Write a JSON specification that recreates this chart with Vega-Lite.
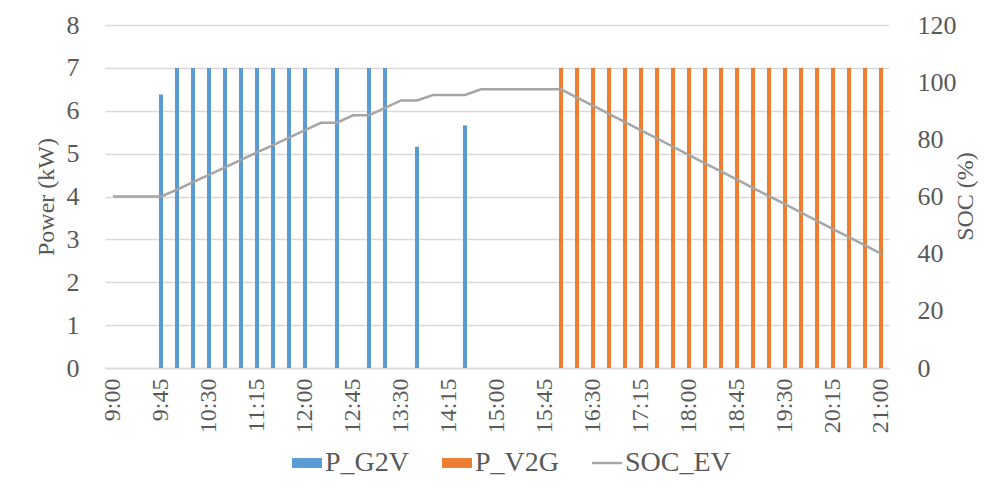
{
  "$schema": "https://vega.github.io/schema/vega-lite/v6.json",
  "width": 784,
  "height": 343,
  "autosize": {"type": "none"},
  "padding": {"left": 105, "top": 25, "right": 117, "bottom": 121},
  "background": "white",
  "config": {
    "view": {"stroke": null},
    "font": "Liberation Serif",
    "axis": {"labelFont": "Liberation Serif", "titleFont": "Liberation Serif", "labelColor": "#595959", "titleColor": "#595959", "titleFontWeight": "normal", "labelFontSize": 24, "titleFontSize": 24},
    "legend": {"labelFont": "Liberation Serif", "labelColor": "#595959", "labelFontSize": 28}
  },
  "datasets": {
    "bars": [
      {"time": "9:45", "series": "P_G2V", "power": 6.38},
      {"time": "10:00", "series": "P_G2V", "power": 7},
      {"time": "10:15", "series": "P_G2V", "power": 7},
      {"time": "10:30", "series": "P_G2V", "power": 7},
      {"time": "10:45", "series": "P_G2V", "power": 7},
      {"time": "11:00", "series": "P_G2V", "power": 7},
      {"time": "11:15", "series": "P_G2V", "power": 7},
      {"time": "11:30", "series": "P_G2V", "power": 7},
      {"time": "11:45", "series": "P_G2V", "power": 7},
      {"time": "12:00", "series": "P_G2V", "power": 7},
      {"time": "12:30", "series": "P_G2V", "power": 7},
      {"time": "13:00", "series": "P_G2V", "power": 7},
      {"time": "13:15", "series": "P_G2V", "power": 7},
      {"time": "13:45", "series": "P_G2V", "power": 5.16},
      {"time": "14:30", "series": "P_G2V", "power": 5.66},
      {"time": "16:00", "series": "P_V2G", "power": 7},
      {"time": "16:15", "series": "P_V2G", "power": 7},
      {"time": "16:30", "series": "P_V2G", "power": 7},
      {"time": "16:45", "series": "P_V2G", "power": 7},
      {"time": "17:00", "series": "P_V2G", "power": 7},
      {"time": "17:15", "series": "P_V2G", "power": 7},
      {"time": "17:30", "series": "P_V2G", "power": 7},
      {"time": "17:45", "series": "P_V2G", "power": 7},
      {"time": "18:00", "series": "P_V2G", "power": 7},
      {"time": "18:15", "series": "P_V2G", "power": 7},
      {"time": "18:30", "series": "P_V2G", "power": 7},
      {"time": "18:45", "series": "P_V2G", "power": 7},
      {"time": "19:00", "series": "P_V2G", "power": 7},
      {"time": "19:15", "series": "P_V2G", "power": 7},
      {"time": "19:30", "series": "P_V2G", "power": 7},
      {"time": "19:45", "series": "P_V2G", "power": 7},
      {"time": "20:00", "series": "P_V2G", "power": 7},
      {"time": "20:15", "series": "P_V2G", "power": 7},
      {"time": "20:30", "series": "P_V2G", "power": 7},
      {"time": "20:45", "series": "P_V2G", "power": 7},
      {"time": "21:00", "series": "P_V2G", "power": 7}
    ],
    "soc": [
      {"time": "9:00", "soc": 60}, {"time": "9:15", "soc": 60}, {"time": "9:30", "soc": 60}, {"time": "9:45", "soc": 60},
      {"time": "10:00", "soc": 62.4}, {"time": "10:15", "soc": 65.0}, {"time": "10:30", "soc": 67.6}, {"time": "10:45", "soc": 70.2},
      {"time": "11:00", "soc": 72.8}, {"time": "11:15", "soc": 75.4}, {"time": "11:30", "soc": 78.0}, {"time": "11:45", "soc": 80.6},
      {"time": "12:00", "soc": 83.2}, {"time": "12:15", "soc": 85.8}, {"time": "12:30", "soc": 85.8}, {"time": "12:45", "soc": 88.4},
      {"time": "13:00", "soc": 88.4}, {"time": "13:15", "soc": 91.0}, {"time": "13:30", "soc": 93.6}, {"time": "13:45", "soc": 93.6},
      {"time": "14:00", "soc": 95.5}, {"time": "14:15", "soc": 95.5}, {"time": "14:30", "soc": 95.5}, {"time": "14:45", "soc": 97.5},
      {"time": "15:00", "soc": 97.5}, {"time": "15:15", "soc": 97.5}, {"time": "15:30", "soc": 97.5}, {"time": "15:45", "soc": 97.5},
      {"time": "16:00", "soc": 97.5}, {"time": "16:15", "soc": 94.6}, {"time": "16:30", "soc": 91.8}, {"time": "16:45", "soc": 88.9},
      {"time": "17:00", "soc": 86.0}, {"time": "17:15", "soc": 83.1}, {"time": "17:30", "soc": 80.3}, {"time": "17:45", "soc": 77.4},
      {"time": "18:00", "soc": 74.5}, {"time": "18:15", "soc": 71.6}, {"time": "18:30", "soc": 68.8}, {"time": "18:45", "soc": 65.9},
      {"time": "19:00", "soc": 63.0}, {"time": "19:15", "soc": 60.1}, {"time": "19:30", "soc": 57.3}, {"time": "19:45", "soc": 54.4},
      {"time": "20:00", "soc": 51.5}, {"time": "20:15", "soc": 48.6}, {"time": "20:30", "soc": 45.8}, {"time": "20:45", "soc": 42.9},
      {"time": "21:00", "soc": 40.0}
    ]
  },
  "layer": [
    {
      "data": {"name": "bars"},
      "mark": {"type": "bar", "width": 4},
      "encoding": {
        "x": {
          "field": "time", "type": "nominal", "sort": null,
          "scale": {"domain": ["9:00","9:15","9:30","9:45","10:00","10:15","10:30","10:45","11:00","11:15","11:30","11:45","12:00","12:15","12:30","12:45","13:00","13:15","13:30","13:45","14:00","14:15","14:30","14:45","15:00","15:15","15:30","15:45","16:00","16:15","16:30","16:45","17:00","17:15","17:30","17:45","18:00","18:15","18:30","18:45","19:00","19:15","19:30","19:45","20:00","20:15","20:30","20:45","21:00"], "paddingInner": 0, "paddingOuter": 0},
          "axis": {
            "title": null,
            "values": ["9:00","9:45","10:30","11:15","12:00","12:45","13:30","14:15","15:00","15:45","16:30","17:15","18:00","18:45","19:30","20:15","21:00"],
            "labelAngle": 270, "labelAlign": "right", "labelBaseline": "middle",
            "labelPadding": 10, "ticks": false, "tickSize": 0,
            "domainColor": "#D9D9D9", "domainWidth": 1.5, "grid": false
          }
        },
        "y": {
          "field": "power", "type": "quantitative",
          "scale": {"domain": [0, 8], "nice": false},
          "axis": {
            "title": "Power (kW)", "values": [0,1,2,3,4,5,6,7,8],
            "labelFontSize": 26,
            "grid": true, "gridColor": "#D9D9D9", "gridWidth": 1.5,
            "domain": false, "ticks": false, "tickSize": 0, "labelPadding": 26,
            "titlePadding": 8
          }
        },
        "color": {
          "field": "series", "type": "nominal",
          "scale": {"domain": ["P_G2V", "P_V2G", "SOC_EV"], "range": ["#5B9BD5", "#ED7D31", "#A5A5A5"]},
          "legend": {
            "title": null, "orient": "none", "direction": "horizontal",
            "legendX": 187, "legendY": 423,
            "labelFontSize": 28,
            "symbolSize": 900, "symbolStrokeWidth": 0, "labelOffset": 3, "columnPadding": 32,
            "encode": {
              "symbols": {
                "update": {
                  "shape": {"signal": "datum.value === 'SOC_EV' ? 'M-1,-0.08H1V0.08H-1Z' : 'M-1,-0.33H1V0.33H-1Z'"}
                }
              }
            }
          }
        }
      }
    },
    {
      "data": {"name": "soc"},
      "mark": {"type": "line", "color": "#A5A5A5", "strokeWidth": 2.5},
      "encoding": {
        "x": {"field": "time", "type": "nominal", "sort": null},
        "y": {
          "field": "soc", "type": "quantitative",
          "scale": {"domain": [0, 120], "nice": false},
          "axis": {
            "title": "SOC (%)", "orient": "right", "values": [0,20,40,60,80,100,120],
            "labelFontSize": 26, "titleAngle": 270,
            "titleX": 76, "titleY": 171, "titleAlign": "center", "titleBaseline": "middle",
            "grid": false, "domain": false, "ticks": false, "tickSize": 0, "labelPadding": 28
          }
        }
      }
    }
  ],
  "resolve": {"scale": {"y": "independent"}}
}
